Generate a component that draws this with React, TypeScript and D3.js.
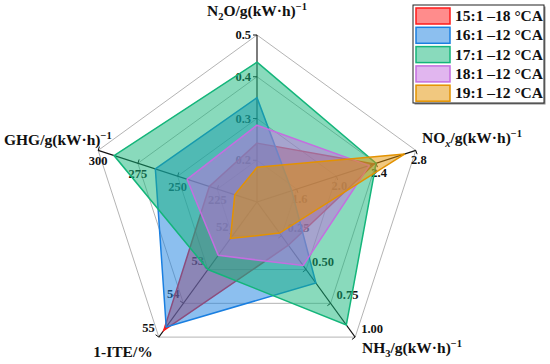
import { useEffect, useRef } from "react";
import * as d3 from "d3";

// series (legend order)
const seriesNames = ["15:1 \u201318 \u00b0CA", "16:1 \u201312 \u00b0CA", "17:1 \u201312 \u00b0CA", "18:1 \u201312 \u00b0CA", "19:1 \u201312 \u00b0CA"];
const seriesColors = ["#ff1a1a", "#1a7fe0", "#14b57a", "#c46ee0", "#e39200"];

// values per axis, one per series
const n2oValues = [0.241, 0.35, 0.435, 0.284, 0.183];
const noxValues = [2.38, 1.55, 2.4, 2.33, 2.69];
const nh3Values = [0.32, 0.6, 0.91, 0.47, 0.23];
const iteValues = [54.8, 54.7, 53.0, 52.58, 52.08];
const ghgValues = [230, 264, 290, 244, 214];

// axis domains and ticks
const n2oTicks = ["0.2", "0.3", "0.4", "0.5"];
const noxTicks = ["1.6", "2.0", "2.4", "2.8"];
const nh3Ticks = ["0.25", "0.50", "0.75", "1.00"];
const iteTicks = ["52", "53", "54", "55"];
const ghgTicks = ["225", "250", "275", "300"];

const W = 550;
const H = 364;
const cx = 257;
const cy = 202;
const R = 167;

type AxisDef = {
  key: string;
  domain: [number, number];
  ticks: string[];
  values: number[];
  angle: number;
  labelDx: number;
  labelDy: number;
  anchor: string;
};

const axes: AxisDef[] = [
  { key: "N2O", domain: [0.1, 0.5], ticks: n2oTicks, values: n2oValues, angle: -90, labelDx: -6, labelDy: 4, anchor: "end" },
  { key: "NOx", domain: [1.2, 2.8], ticks: noxTicks, values: noxValues, angle: -18, labelDx: 3, labelDy: 14, anchor: "middle" },
  { key: "NH3", domain: [0, 1], ticks: nh3Ticks, values: nh3Values, angle: 54, labelDx: 6, labelDy: -4, anchor: "start" },
  { key: "ITE", domain: [51, 55], ticks: iteTicks, values: iteValues, angle: 126, labelDx: -4, labelDy: -5, anchor: "end" },
  { key: "GHG", domain: [200, 300], ticks: ghgTicks, values: ghgValues, angle: 198, labelDx: 0, labelDy: 15, anchor: "middle" },
];

const pt = (angleDeg: number, r: number): [number, number] => {
  const a = (angleDeg * Math.PI) / 180;
  return [cx + r * Math.cos(a), cy + r * Math.sin(a)];
};

export default function App() {
  const ref = useRef<SVGSVGElement>(null);

  useEffect(() => {
    const svg = d3.select(ref.current);
    svg.selectAll("*").remove();

    const font = "'Liberation Serif', 'Times New Roman', serif";
    const scales = axes.map((a) => d3.scaleLinear().domain(a.domain).range([0, R]));

    // grid rings
    const ringLevels = [0.25, 0.5, 0.75, 1];
    const line = d3.line();
    svg
      .append("g")
      .selectAll("path")
      .data(ringLevels)
      .join("path")
      .attr("d", (lv) => line(axes.map((a) => pt(a.angle, R * lv))) + "Z")
      .attr("fill", "none")
      .attr("stroke", "#b4b4b4")
      .attr("stroke-width", 1);

    // spokes, ticks, tick labels
    axes.forEach((a, i) => {
      const g = svg.append("g");
      const end = pt(a.angle, R);
      g.append("line")
        .attr("x1", cx)
        .attr("y1", cy)
        .attr("x2", end[0])
        .attr("y2", end[1])
        .attr("stroke", "#111")
        .attr("stroke-width", 1.1);
      const rad = (a.angle * Math.PI) / 180;
      const px = -Math.sin(rad);
      const py = Math.cos(rad);
      a.ticks.forEach((t) => {
        const [x, y] = pt(a.angle, scales[i](+t));
        g.append("line")
          .attr("x1", x)
          .attr("y1", y)
          .attr("x2", x + px * 4 * (a.key === "N2O" ? -1 : 1))
          .attr("y2", y + py * 4 * (a.key === "N2O" ? -1 : 1))
          .attr("stroke", "#111")
          .attr("stroke-width", 1);
        g.append("text")
          .attr("x", x + a.labelDx)
          .attr("y", y + a.labelDy)
          .attr("text-anchor", a.anchor)
          .attr("font-family", font)
          .attr("font-weight", "bold")
          .attr("font-size", 12.5)
          .attr("fill", "#111")
          .text(t);
      });
    });

    // series polygons
    seriesNames.forEach((_, s) => {
      const pts = axes.map((a, i) => pt(a.angle, scales[i](a.values[s])));
      svg
        .append("path")
        .attr("d", line(pts) + "Z")
        .attr("fill", seriesColors[s])
        .attr("fill-opacity", 0.5)
        .attr("stroke", seriesColors[s])
        .attr("stroke-width", 1.5)
        .attr("stroke-linejoin", "miter");
    });

    // axis titles
    const title = (x: number, y: number, anchor: string, parts: [string, string][]) => {
      const t = svg
        .append("text")
        .attr("x", x)
        .attr("y", y)
        .attr("text-anchor", anchor)
        .attr("font-family", font)
        .attr("font-weight", "bold")
        .attr("font-size", 15.5)
        .attr("fill", "#111");
      parts.forEach(([txt, kind]) => {
        const sp = t.append("tspan").text(txt);
        if (kind === "sub") sp.attr("font-size", 10.5).attr("dy", 4);
        if (kind === "subi") sp.attr("font-size", 10.5).attr("dy", 4).attr("font-style", "italic");
        if (kind === "back") sp.attr("dy", -4);
        if (kind === "sup") sp.attr("font-size", 10.5).attr("dy", -6);
      });
    };
    title(cx, 16, "middle", [["N", ""], ["2", "sub"], ["O/g(kW\u00b7h)", "back"], ["\u22121", "sup"]]);
    title(422, 143, "start", [["NO", ""], ["x", "subi"], ["/g(kW\u00b7h)", "back"], ["\u22121", "sup"]]);
    title(4, 145, "start", [["GHG/g(kW\u00b7h)", ""], ["\u22121", "sup"]]);
    title(123, 357, "middle", [["1-ITE/%", ""]]);
    title(362, 353, "start", [["NH", ""], ["3", "sub"], ["/g(kW\u00b7h)", "back"], ["\u22121", "sup"]]);

    // legend
    const lg = svg.append("g");
    lg.append("rect").attr("x", 414.5).attr("y", 6.5).attr("width", 131).attr("height", 98).attr("fill", "#888");
    lg.append("rect")
      .attr("x", 413)
      .attr("y", 5)
      .attr("width", 131)
      .attr("height", 98)
      .attr("fill", "#fff")
      .attr("stroke", "#222")
      .attr("stroke-width", 1);
    seriesNames.forEach((name, s) => {
      const y = 8 + s * 19.3;
      lg.append("rect")
        .attr("x", 416)
        .attr("y", y)
        .attr("width", 34)
        .attr("height", 16)
        .attr("fill", seriesColors[s])
        .attr("fill-opacity", 0.5)
        .attr("stroke", seriesColors[s])
        .attr("stroke-width", 1.5);
      lg.append("text")
        .attr("x", 455)
        .attr("y", y + 13)
        .attr("font-family", font)
        .attr("font-weight", "bold")
        .attr("font-size", 15.5)
        .attr("fill", "#111")
        .text(name);
    });
  }, []);

  return (
    <svg
      ref={ref}
      width={W}
      height={H}
      viewBox={`0 0 ${W} ${H}`}
      style={{ position: "absolute", left: 0, top: 0, background: "#fff" }}
    />
  );
}
